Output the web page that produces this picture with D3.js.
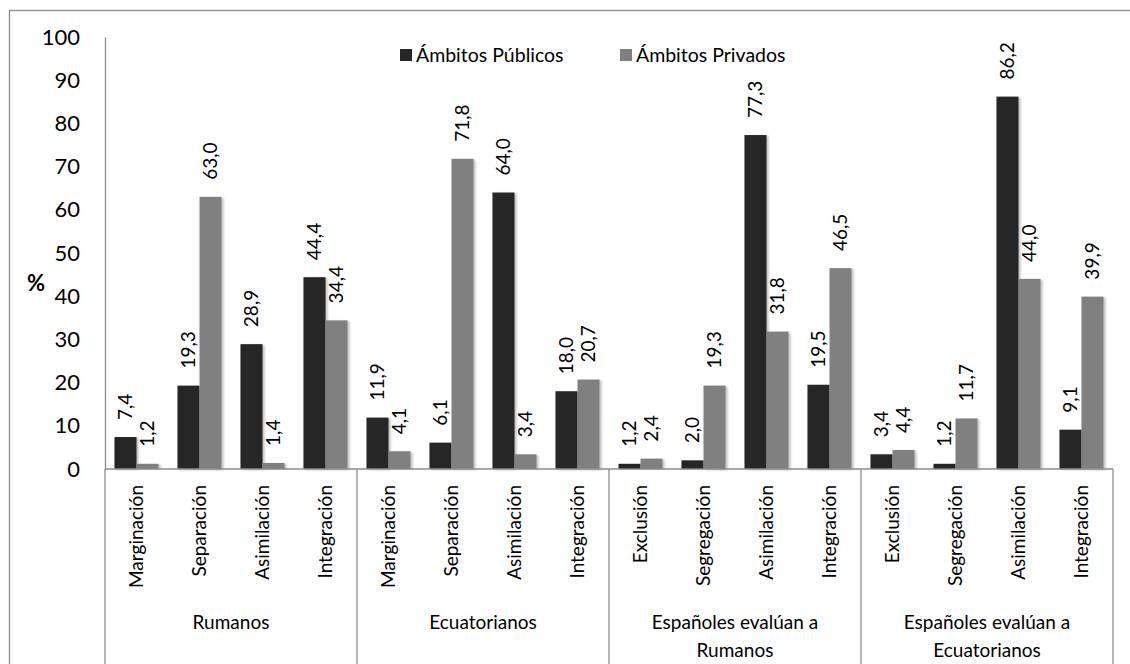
<!DOCTYPE html>
<html>
<head>
<meta charset="utf-8">
<script src="https://cdn.jsdelivr.net/npm/d3@7"></script>
<style>
  body { margin: 0; background: #fff; }
  text { font-family: Lato, "Open Sans", sans-serif; fill: #000; }
</style>
</head>
<body>
<div id="chart"></div>
<script>
// data
var groups = ["Rumanos", "Ecuatorianos", "Españoles evalúan a|Rumanos", "Españoles evalúan a|Ecuatorianos"];
var categories = [
  "Marginación", "Separación", "Asimilación", "Integración",
  "Marginación", "Separación", "Asimilación", "Integración",
  "Exclusión", "Segregación", "Asimilación", "Integración",
  "Exclusión", "Segregación", "Asimilación", "Integración"
];
var seriesNames = ["Ámbitos Públicos", "Ámbitos Privados"];
var publicos = [7.4, 19.3, 28.9, 44.4, 11.9, 6.1, 64.0, 18.0, 1.2, 2.0, 77.3, 19.5, 3.4, 1.2, 86.2, 9.1];
var privados = [1.2, 63.0, 1.4, 34.4, 4.1, 71.8, 3.4, 20.7, 2.4, 19.3, 31.8, 46.5, 4.4, 11.7, 44.0, 39.9];
var yTicks = [0, 10, 20, 30, 40, 50, 60, 70, 80, 90, 100];
var colors = ["#262626", "#808080"];

var svgWidth = 1130;
var svgHeight = 664;

var plot = { left: 105, right: 1113, top: 37, bottom: 469 };

var svg = d3.select("#chart")
  .append("svg")
  .attr("width", svgWidth)
  .attr("height", svgHeight);

// soft shadow like the Excel bars
var defs = svg.append("defs");
defs.append("filter")
  .attr("id", "shadow")
  .attr("x", "-20%").attr("y", "-5%")
  .attr("width", "150%").attr("height", "110%")
  .append("feDropShadow")
  .attr("dx", 2).attr("dy", 1)
  .attr("stdDeviation", 1.2)
  .attr("flood-color", "#000")
  .attr("flood-opacity", 0.25);

// outer border
svg.append("rect")
  .attr("x", 9.5).attr("y", 10.5)
  .attr("width", 1130).attr("height", 670)
  .attr("fill", "none")
  .attr("stroke", "#8c8c8c")
  .attr("stroke-width", 1.3);

var fmt = d3.formatLocale({ decimal: ",", thousands: ".", grouping: [3], currency: ["", "€"] }).format(".1f");

var x0 = d3.scaleBand()
  .domain(d3.range(categories.length))
  .range([plot.left, plot.right])
  .paddingInner(0.3)
  .paddingOuter(0.15);

var x1 = d3.scaleBand()
  .domain([0, 1])
  .range([0, x0.bandwidth()]);

var y = d3.scaleLinear()
  .domain([0, 100])
  .range([plot.bottom, plot.top]);

var data = categories.map(function(c, i) {
  return { i: i, values: [publicos[i], privados[i]] };
});

// bars
var catG = svg.append("g").selectAll("g")
  .data(data)
  .enter()
  .append("g")
  .attr("transform", d => `translate(${x0(d.i)},0)`);

catG.selectAll("rect")
  .data(d => d.values.map((v, s) => ({ v: v, s: s })))
  .enter()
  .append("rect")
  .attr("x", d => x1(d.s))
  .attr("y", d => y(d.v))
  .attr("width", x1.bandwidth())
  .attr("height", d => y(0) - y(d.v))
  .attr("fill", d => colors[d.s])
  .attr("filter", "url(#shadow)");

// data labels
catG.selectAll("text")
  .data(d => d.values.map((v, s) => ({ v: v, s: s })))
  .enter()
  .append("text")
  .attr("transform", d => `translate(${x1(d.s) + x1.bandwidth() / 2},${y(d.v) - 17})rotate(-90)`)
  .attr("dy", "0.35em")
  .attr("text-anchor", "start")
  .attr("font-size", "19px")
  .text(d => fmt(d.v));

// y axis
var yAxis = svg.append("g")
  .attr("transform", `translate(${plot.left},0)`)
  .call(d3.axisLeft(y).tickValues(yTicks).tickSize(0).tickPadding(25));
yAxis.select(".domain").attr("stroke", "#8c8c8c").attr("stroke-width", 1.3);
yAxis.selectAll("text")
  .attr("font-size", "22px")
  .attr("font-family", "Lato, sans-serif")
  .attr("fill", "#000");

svg.append("text")
  .attr("x", 36).attr("y", 283)
  .attr("dy", "0.35em")
  .attr("text-anchor", "middle")
  .attr("font-size", "22px")
  .attr("font-weight", "bold")
  .text("%");

// x axis line
svg.append("line")
  .attr("x1", plot.left).attr("x2", plot.right)
  .attr("y1", plot.bottom).attr("y2", plot.bottom)
  .attr("stroke", "#8c8c8c").attr("stroke-width", 1.3);

// category labels
svg.append("g").selectAll("text")
  .data(categories)
  .enter()
  .append("text")
  .attr("transform", (d, i) => `translate(${x0(i) + x0.bandwidth() / 2},485)rotate(-90)`)
  .attr("dy", "0.35em")
  .attr("text-anchor", "end")
  .attr("font-size", "19px")
  .text(d => d);

// group separators and labels
var groupWidth = (plot.right - plot.left) / groups.length;
var sepX = d3.range(groups.length + 1).map(i => plot.left + i * groupWidth);

svg.append("g").selectAll("line")
  .data(sepX)
  .enter()
  .append("line")
  .attr("x1", d => d).attr("x2", d => d)
  .attr("y1", plot.bottom).attr("y2", 664)
  .attr("stroke", "#8c8c8c").attr("stroke-width", 1.3);

var groupLabels = svg.append("g").selectAll("text")
  .data(groups)
  .enter()
  .append("text")
  .attr("x", (d, i) => plot.left + (i + 0.5) * groupWidth)
  .attr("y", 629)
  .attr("text-anchor", "middle")
  .attr("font-size", "19px");

groupLabels.each(function(d) {
  var lines = d.split("|");
  var t = d3.select(this);
  lines.forEach(function(l, k) {
    t.append("tspan")
      .attr("x", t.attr("x"))
      .attr("dy", k === 0 ? 0 : 28)
      .text(l);
  });
});

// legend
var legend = svg.append("g").attr("transform", "translate(400,55)");
var legendX = [0, 220];
seriesNames.forEach(function(name, i) {
  legend.append("rect")
    .attr("x", legendX[i]).attr("y", -6)
    .attr("width", 12).attr("height", 12)
    .attr("fill", colors[i]);
  legend.append("text")
    .attr("x", legendX[i] + 16).attr("y", 0)
    .attr("dy", "0.35em")
    .attr("font-size", "19.5px")
    .text(name);
});
</script>
</body>
</html>
